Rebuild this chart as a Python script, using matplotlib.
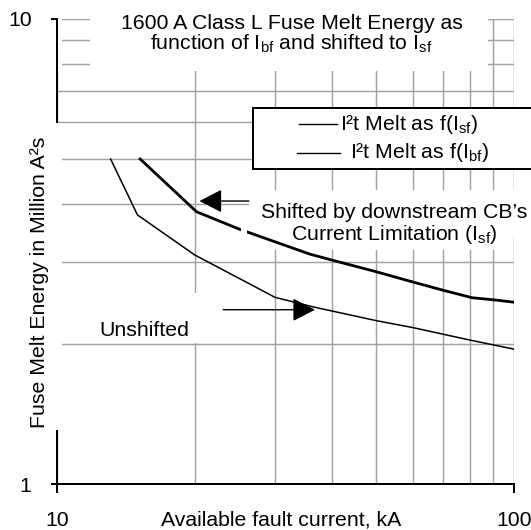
import matplotlib
matplotlib.use("Agg")
import matplotlib.pyplot as plt
from matplotlib.patches import Rectangle
from matplotlib.lines import Line2D
from matplotlib.ticker import NullFormatter, FixedLocator

plt.rcParams['font.family'] = ['Liberation Sans', 'DejaVu Sans']

# ---- data ----
bf_x = [13.1, 15.0, 20.0, 30.0, 36.6, 50, 60, 80, 100]
bf_y = [5.0, 3.79, 3.11, 2.52, 2.40, 2.245, 2.17, 2.04, 1.95]
sf_x = [15.2, 20.2, 25.1, 35.8, 40, 50, 60, 70, 81, 90, 100]
sf_y = [5.0, 3.85, 3.53, 3.12, 3.03, 2.86, 2.72, 2.61, 2.515, 2.49, 2.46]

x_major = [10, 100]
x_major_labels = ['10', '100']
y_major = [1, 10]
y_major_labels = ['1', '10']
x_minor = [20, 30, 40, 50, 60, 70, 80, 90]
y_minor = [2, 3, 4, 5, 6, 7, 8, 9]

title1 = "1600 A Class L Fuse Melt Energy as"
title2 = r"function of I$_\mathregular{bf}$ and shifted to I$_\mathregular{sf}$"
ann1 = "Shifted by downstream CB\u2019s"
ann2 = r"Current Limitation (I$_\mathregular{sf}$)"
unshifted_txt = "Unshifted"
leg_sf = r"I²t Melt as f(I$_\mathregular{sf}$)"
leg_bf = r"I²t Melt as f(I$_\mathregular{bf}$)"
xlabel = "Available fault current, kA"
ylabel = "Fuse Melt Energy in Million A²s"

# arrows (data coords): (tail, tip)
arrow_shift = ((26.3, 4.06), (20.5, 4.06))
arrow_unshift = ((23.1, 2.37), (36.7, 2.37))

# ---- figure ----
W, H = 531, 530
FS = 15.3
fig = plt.figure(figsize=(W / 100, H / 100), dpi=100)
ax = fig.add_axes([57 / W, (H - 484) / H, 457 / W, 465 / H])
ax.set_xscale('log')
ax.set_yscale('log')
ax.set_xlim(10, 100)
ax.set_ylim(1, 10)

ax.xaxis.set_major_locator(FixedLocator(x_major))
ax.set_xticklabels(x_major_labels)
ax.yaxis.set_major_locator(FixedLocator(y_major))
ax.set_yticklabels(y_major_labels)
ax.xaxis.set_minor_locator(FixedLocator(x_minor))
ax.yaxis.set_minor_locator(FixedLocator(y_minor))
ax.xaxis.set_minor_formatter(NullFormatter())
ax.yaxis.set_minor_formatter(NullFormatter())
ax.tick_params(which='minor', length=0)
ax.tick_params(axis='y', which='major', direction='out', length=4.3, width=1.44,
               pad=14, labelsize=FS)
ax.tick_params(axis='x', which='major', direction='out', length=6.7, width=1.44,
               pad=12.5, labelsize=FS)

ax.grid(which='both', color='#a2a2a2', lw=1.05)
ax.set_axisbelow(True)
for s in ['top', 'right']:
    ax.spines[s].set_visible(False)
for s in ['left', 'bottom']:
    ax.spines[s].set_linewidth(1.44)
    ax.spines[s].set_color('black')

ax.set_xlabel(xlabel, fontsize=FS, va='baseline')
ax.xaxis.set_label_coords(0.49, (484 - 526) / 465)
# y label drawn as text above its white box
ax.text((45 - 57) / 457, (484 - 282) / 465, ylabel, transform=ax.transAxes,
        rotation=90, rotation_mode='anchor', ha='center', va='baseline',
        fontsize=FS, zorder=3, clip_on=False)


def fx(x):
    return x / W


def fy(y):
    return 1 - y / H


def white_box(x0, y0, x1, y1, z):
    ax.add_patch(Rectangle((fx(x0), fy(y1)), fx(x1) - fx(x0), fy(y0) - fy(y1),
                           transform=fig.transFigure, facecolor='white',
                           edgecolor='none', clip_on=False, zorder=z))


# white text boxes hiding the grid
white_box(90, 0, 488, 71, 2.0)       # title
white_box(58, 0, 61.8, 71, 2.0)      # "10" label
white_box(25, 123, 61.8, 430, 2.6)   # y label
white_box(249, 190, 508, 250, 2.0)   # annotation
white_box(508, 190, 540, 236, 2.0)   # annotation (right end)
white_box(69.4, 293, 222, 343, 2.0)  # "Unshifted"

# curves
ax.plot(sf_x, sf_y, color='black', lw=2.0, zorder=3, solid_joinstyle='round')
ax.plot(bf_x, bf_y, color='black', lw=1.1, zorder=3, solid_joinstyle='round')
white_box(240.5, 224, 247, 238, 3.1)  # small gap in shifted curve

# arrows
for (tail, tip) in (arrow_shift, arrow_unshift):
    ax.annotate('', xy=tip, xytext=tail,
                arrowprops=dict(arrowstyle='-|>,head_length=1.4,head_width=0.72',
                                mutation_scale=10, lw=1.0, color='black',
                                shrinkA=0, shrinkB=0),
                zorder=5)

# texts
def T(x, y, s, **kw):
    fig.text(fx(x), fy(y), s, fontsize=FS, ha='center', va='baseline', **kw)


T(291.6, 29, title1)
T(291.6, 49.5, title2)
T(394.5, 218.2, ann1)
T(394.5, 240.2, ann2)
T(144.5, 335.6, unshifted_txt)

# legend box
ax.add_patch(Rectangle((fx(253.3), fy(169)), fx(560) - fx(253.3), fy(108.3) - fy(169),
                       transform=fig.transFigure, facecolor='white',
                       edgecolor='black', lw=1.44, clip_on=False, zorder=4))
fig.add_artist(Line2D([fx(299.3), fx(336.7)], [fy(124.3), fy(124.3)],
                      color='black', lw=1.0, zorder=5))
fig.add_artist(Line2D([fx(297.3), fx(340)], [fy(153.3), fy(153.3)],
                      color='black', lw=1.0, zorder=5))
fig.text(fx(340), fy(130), leg_sf, fontsize=FS, ha='left', va='baseline', zorder=6)
fig.text(fx(350), fy(158.3), leg_bf, fontsize=FS, ha='left', va='baseline', zorder=6)

fig.savefig('out.png', dpi=100)
